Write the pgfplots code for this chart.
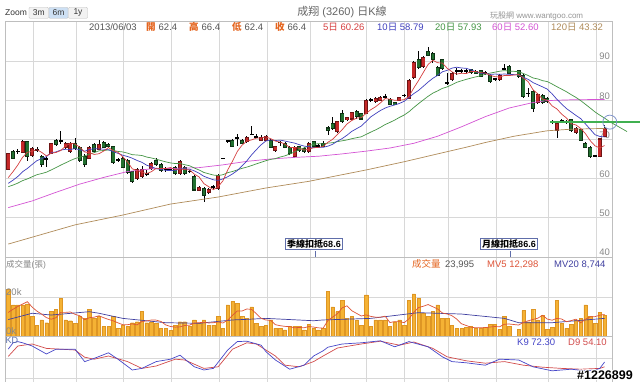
\documentclass[border=0pt]{standalone}
\usepackage{fontspec}
\setmainfont{Liberation Sans}
\newfontfamily\cjk{Noto Sans CJK TC}
\usepackage{pgfplots}
\usepackage{pgfplotstable}
\pgfplotsset{compat=1.18}
\definecolor{ma5c}{RGB}{214,64,64}
\definecolor{ma10c}{RGB}{64,64,190}
\definecolor{ma20c}{RGB}{70,150,70}
\definecolor{ma60c}{RGB}{212,84,212}
\definecolor{ma120c}{RGB}{176,140,90}
\definecolor{upc}{RGB}{196,40,40}
\definecolor{upe}{RGB}{110,20,20}
\definecolor{dnc}{RGB}{34,112,48}
\definecolor{dne}{RGB}{15,50,20}
\definecolor{volc}{RGB}{245,178,52}
\definecolor{vole}{RGB}{222,150,36}
\definecolor{gridc}{RGB}{216,216,216}
\definecolor{framec}{RGB}{190,190,190}
\definecolor{labc}{RGB}{136,136,136}
\definecolor{txtc}{RGB}{85,85,85}
\definecolor{orc}{RGB}{228,100,30}
\definecolor{kc}{RGB}{70,70,200}
\definecolor{dc}{RGB}{210,76,76}
\definecolor{mv5c}{RGB}{222,84,56}
\definecolor{mv20c}{RGB}{64,64,160}
\definecolor{boxc}{RGB}{96,110,170}
\definecolor{hlg}{RGB}{64,176,80}

\pgfplotsset{panel/.style={
  scale only axis, width=607pt, xmin=-0.69, xmax=126.56,
  axis line style={draw=framec, line width=0.7pt},
  xmajorgrids, ymajorgrids,
  grid style={draw=gridc, line width=0.6pt},
  xtick={5.18,14.19,24.05,34.11,44.17,54.23,63.25,74.99,82.96,92.18,102.25,113.14,123.20},
  xticklabels={,,,,,,,,,,,,,},
  major tick length=0pt,
  ticklabel style={font=\fontsize{9.5}{11}\selectfont, text=labc},
  /pgf/number format/assume math mode=true,
}}

% candles: i open high low close
\pgfplotstableread{
i o h l c
0 62.4 66.4 62.4 66.4
3 66.7 69.8 66.4 69.4
5 66.0 68.0 65.6 67.7
9 66.4 69.2 66.2 69.0
12 67.9 69.3 67.6 69.0
13 66.9 69.3 66.5 69.0
17 65.2 68.3 64.9 67.9
19 67.5 69.8 67.2 68.6
27 60.1 62.6 59.6 62.2
28 60.5 63.3 60.1 62.3
30 62.6 64.3 62.2 63.9
36 61.3 64.7 60.9 64.3
40 57.1 58.1 56.9 57.7
42 56.4 57.6 56.1 57.3
44 57.5 61.2 57.2 60.9
50 69.4 70.8 69.1 70.4
53 69.7 71.0 69.5 70.5
54 69.8 71.2 69.5 70.6
56 67.1 68.4 66.8 68.1
60 65.6 68.2 65.2 67.9
63 66.9 69.3 66.6 69.0
69 72.0 74.8 71.7 74.5
71 75.0 75.8 74.8 75.5
72 75.2 77.1 75.0 76.8
75 76.7 80.2 76.4 79.9
77 79.6 80.8 79.3 80.5
78 80.0 81.0 79.8 80.7
82 80.0 80.9 79.8 80.7
84 80.5 85.3 80.2 85.0
85 85.8 89.9 85.5 89.6
87 88.6 91.2 88.3 91.0
93 85.2 87.2 85.0 86.9
103 85.2 86.7 85.0 86.4
111 79.4 81.8 79.1 81.5
115 72.4 74.8 70.3 74.1
119 71.7 73.2 71.4 72.8
124 65.6 70.4 65.4 70.1
125 70.7 73.7 70.5 72.8
}\upt
\pgfplotstableread{
i o h l c
1 66.8 67.2 64.9 65.1
4 69.4 69.6 64.6 65.6
7 65.6 66.0 63.0 63.5
10 69.7 70.0 68.3 68.6
14 69.0 70.3 67.4 67.7
15 67.9 68.3 64.2 64.6
16 65.6 66.2 63.0 63.7
18 68.6 69.0 66.5 66.9
20 69.2 69.5 67.7 68.0
21 68.8 69.2 67.8 68.1
22 68.1 68.3 63.7 64.1
24 65.2 65.6 62.6 62.9
25 64.7 65.0 61.2 61.5
26 61.8 62.0 58.8 59.2
31 64.7 65.2 63.2 63.5
32 63.5 63.9 61.7 62.0
35 62.9 63.2 61.0 61.3
37 62.9 63.3 60.9 61.2
39 60.5 60.8 56.8 57.1
41 57.5 57.8 54.1 55.8
47 69.6 70.0 68.0 68.3
49 69.8 70.1 68.7 69.0
55 69.8 70.1 67.7 68.0
58 69.0 69.4 67.7 68.0
59 68.0 68.3 66.1 66.4
61 68.1 68.4 66.8 67.1
62 67.7 68.0 66.6 67.0
64 69.4 69.6 68.0 68.3
66 69.0 69.7 68.0 68.3
67 72.9 73.4 71.2 72.3
68 74.1 75.8 72.5 72.8
70 76.5 77.5 74.2 74.5
73 77.1 77.5 75.2 75.8
74 76.5 76.8 74.9 75.2
80 80.2 80.5 78.8 79.0
81 79.4 79.6 78.7 78.9
86 90.3 92.6 88.0 88.4
88 92.4 93.5 91.2 91.5
89 92.0 92.3 89.5 90.4
90 88.4 88.7 86.1 86.4
91 90.4 90.6 87.8 88.1
97 87.7 88.0 86.8 87.1
98 87.4 87.8 86.6 86.9
99 87.5 87.8 85.8 86.0
101 86.4 86.7 84.4 84.7
105 88.7 89.0 86.7 86.9
107 87.5 87.8 85.7 86.0
108 86.4 86.6 80.6 80.9
110 82.2 82.5 77.0 77.9
112 81.3 81.6 79.0 79.3
113 80.5 80.8 79.3 79.6
118 75.0 75.3 72.0 72.2
120 72.4 72.7 69.5 69.7
121 69.0 69.3 67.8 68.0
122 68.0 68.3 65.3 65.6
}\dnt
\pgfplotstableread{
i o h l c
2 66.9 67.6 66.3 67.0
6 67.3 68.1 66.8 67.2
8 64.9 65.6 62.9 65.0
11 69.6 72.1 68.7 69.7
23 64.8 65.2 64.3 64.7
29 61.3 62.2 60.6 61.2
33 62.4 63.0 61.8 62.3
34 62.3 62.8 61.9 62.4
38 61.9 62.3 61.4 61.8
43 57.9 58.4 57.1 58.0
45 65.2 65.2 65.2 65.2
46 69.7 69.7 69.1 69.7
48 70.3 71.3 68.3 70.4
51 71.3 73.5 71.0 71.2
52 70.7 71.3 70.3 70.6
57 69.2 69.7 68.3 69.3
65 68.3 68.7 68.0 68.4
76 80.1 80.5 79.5 80.2
79 80.7 81.6 80.2 80.8
83 81.2 81.6 80.8 81.3
92 84.5 86.9 83.9 84.4
94 87.5 88.1 86.4 87.4
95 87.5 87.9 86.9 87.6
96 87.5 88.0 86.6 87.6
100 86.9 87.4 86.5 87.0
102 85.3 85.7 84.8 85.4
104 87.9 89.2 87.6 88.0
109 81.8 83.0 80.9 81.7
114 74.5 75.0 74.0 74.4
116 74.7 75.3 74.3 74.8
117 74.6 74.9 74.0 74.5
123 65.8 66.1 65.4 65.7
}\djt
% moving averages 5 / 10 / 20
\pgfplotstableread{
i ma5 ma10 ma20
0 60.26 58.79 57.93
1 61.78 59.60 58.35
2 63.48 60.55 58.85
3 65.46 61.76 59.48
4 66.70 62.58 59.92
5 66.96 63.61 60.46
6 67.38 64.58 60.99
7 66.68 65.08 61.29
8 65.80 65.63 61.64
9 66.48 66.59 62.21
10 66.66 66.81 62.80
11 67.16 67.27 63.44
12 68.26 67.47 64.01
13 69.06 67.43 64.60
14 68.80 67.64 65.11
15 68.00 67.33 65.47
16 66.80 66.98 65.78
17 66.58 67.42 66.25
18 66.16 67.61 66.62
19 66.34 67.57 67.08
20 67.02 67.51 67.16
21 67.90 67.35 67.31
22 67.14 66.86 67.17
23 66.70 66.43 66.93
24 65.56 65.95 66.80
25 64.26 65.64 66.49
26 62.48 65.19 66.09
27 62.10 64.62 66.02
28 61.62 64.16 65.89
29 61.28 63.42 65.50
30 61.76 63.01 65.26
31 62.62 62.55 64.95
32 62.58 62.34 64.60
33 62.58 62.10 64.27
34 62.82 62.05 64.00
35 62.30 62.03 63.84
36 62.46 62.54 63.87
37 62.30 62.44 63.53
38 62.20 62.39 63.28
39 61.14 61.98 62.70
40 60.42 61.36 62.19
41 58.72 60.59 61.57
42 57.94 60.12 61.23
43 57.18 59.69 60.90
44 57.94 59.54 60.80
45 59.44 59.93 60.98
46 62.22 60.47 61.51
47 64.42 61.18 61.81
48 66.90 62.04 62.22
49 68.52 63.23 62.61
50 69.56 64.50 62.93
51 69.86 66.04 63.32
52 70.32 67.37 63.75
53 70.34 68.62 64.16
54 70.66 69.59 64.57
55 70.18 69.87 64.90
56 69.56 69.71 65.09
57 69.30 69.81 65.50
58 68.80 69.57 65.81
59 67.96 69.31 66.27
60 67.94 69.06 66.78
61 67.74 68.65 67.35
62 67.28 68.29 67.83
63 67.48 68.14 68.38
64 67.86 67.91 68.75
65 67.96 67.95 68.91
66 68.20 67.97 68.84
67 69.26 68.27 69.04
68 70.02 68.75 69.16
69 71.26 69.56 69.44
70 72.48 70.22 69.64
71 73.92 71.06 69.86
72 74.82 72.04 70.17
73 75.42 72.72 70.43
74 75.56 73.41 70.66
75 76.64 74.56 71.26
76 77.58 75.75 71.86
77 78.32 76.57 72.42
78 79.30 77.36 73.06
79 80.42 77.99 73.78
80 80.24 78.44 74.33
81 79.98 78.78 74.92
82 80.02 79.17 75.61
83 80.14 79.72 76.22
84 80.98 80.70 77.06
85 83.10 81.67 78.12
86 85.00 82.49 79.12
87 87.06 83.54 80.06
88 89.10 84.62 80.99
89 90.18 85.58 81.79
90 89.54 86.32 82.38
91 89.48 87.24 83.01
92 88.16 87.61 83.39
93 87.24 88.17 83.95
94 86.64 88.41 84.56
95 86.88 88.21 84.94
96 86.78 88.13 85.31
97 87.32 87.74 85.64
98 87.32 87.28 85.95
99 87.04 86.84 86.21
100 86.92 86.90 86.61
101 86.34 86.56 86.90
102 86.00 86.66 87.14
103 85.90 86.61 87.39
104 86.30 86.67 87.54
105 86.28 86.60 87.41
107 86.54 86.44 87.29
108 85.64 85.82 86.78
109 84.70 85.30 86.29
110 82.68 84.49 85.67
111 81.60 83.94 85.42
112 80.26 83.40 84.98
113 80.00 82.82 84.74
114 78.54 81.62 84.12
115 77.78 80.23 83.45
116 76.44 79.02 82.81
117 75.48 77.87 82.16
118 74.00 77.00 81.41
119 73.68 76.11 80.71
120 72.80 75.29 79.89
121 71.44 73.94 78.94
122 69.66 72.57 77.99
123 68.36 71.18 77.00
124 67.82 70.75 76.19
125 68.44 70.62 75.43
}\mat
\pgfplotstableread{
i v
0 52.6
5 54.3
10 56.5
15 58.6
20 60.3
25 61.8
30 62.5
35 62.6
40 62.8
45 63.5
50 64.4
55 65.0
60 65.4
65 65.7
70 66.3
75 67.0
80 67.8
85 69.0
90 70.8
95 73.2
100 75.8
105 78.0
110 79.4
113 79.9
118 80.1
125 80.2
}\masixty
\pgfplotstableread{
i v
0 43.3
14 48.2
24 50.7
34 53.5
44 55.3
54 57.6
63 59.3
75 62.2
83 64.3
90 66.3
96 68.0
100 69.2
106 70.8
113 72.2
118 72.6
125 72.8
}\maonetwenty
% volume (thousand shares) and MV5
\pgfplotstableread{
i v mv5
0 24.0 12.30
1 16.1 13.92
2 16.1 15.34
3 16.1 16.56
4 16.6 17.78
5 10.2 15.02
6 5.9 12.98
7 8.5 11.46
8 7.1 9.66
9 12.7 8.88
10 13.9 9.62
11 19.5 12.34
12 8.5 12.34
13 8.1 12.54
14 6.8 11.36
15 10.2 10.62
16 9.3 8.58
17 13.9 9.66
18 9.3 9.90
19 10.5 10.64
20 5.1 9.62
21 5.1 8.78
22 10.2 8.04
23 4.2 7.02
24 5.9 6.10
25 5.1 6.10
26 7.1 6.50
27 7.6 5.98
28 13.0 7.74
29 7.1 7.98
30 7.6 8.48
31 6.8 8.42
32 4.2 7.74
33 4.2 5.98
34 3.1 5.18
35 5.9 4.84
36 7.6 5.00
37 7.6 5.68
38 5.1 5.86
39 8.5 6.94
40 6.8 7.12
41 8.5 7.30
42 5.9 6.96
43 5.9 7.12
44 10.2 7.46
45 4.2 6.94
46 16.1 8.46
47 17.8 10.84
48 16.9 13.04
49 10.2 13.04
50 9.3 14.06
51 15.2 13.88
52 6.8 11.68
53 5.1 9.32
54 5.9 8.46
55 8.5 8.30
56 4.2 6.10
57 4.2 5.58
58 3.4 5.24
59 5.4 5.14
60 5.4 4.52
61 5.1 4.70
62 3.4 4.54
63 6.4 5.14
64 4.2 4.90
65 3.4 4.50
66 4.2 4.32
67 22.9 8.22
68 15.2 9.98
69 12.7 11.68
70 18.3 14.66
71 9.3 15.68
72 10.5 13.20
73 8.5 11.86
74 5.9 10.50
75 21.2 11.08
76 5.4 10.30
77 8.5 9.90
78 8.5 9.90
79 8.5 10.42
80 5.1 7.20
81 7.6 7.64
82 8.5 7.64
83 5.9 7.12
84 18.3 9.08
85 21.7 12.40
86 19.5 14.78
87 11.9 15.46
88 10.2 16.32
89 12.7 15.20
90 16.1 14.08
91 9.3 12.04
92 9.3 11.52
93 5.9 10.66
94 4.2 8.96
95 4.2 6.58
96 4.8 5.68
97 5.1 4.84
98 4.2 4.50
99 4.2 4.50
100 4.8 4.62
101 6.3 4.92
102 6.3 5.16
103 3.7 5.06
104 10.5 6.32
105 5.4 6.44
107 3.7 5.92
108 13.2 7.30
109 7.6 8.08
110 13.9 8.76
111 8.5 9.38
112 11.0 10.84
113 3.7 8.94
114 4.8 8.38
115 18.6 9.32
116 6.8 8.98
117 4.2 7.62
118 6.4 8.16
119 8.5 8.90
120 9.3 7.04
121 16.1 8.90
122 10.2 10.10
123 6.8 10.18
124 12.2 10.92
125 11.0 11.26
}\volt
\pgfplotstableread{
i v
0 8.7
5 11.9
9 11.0
17 12.7
19 11.9
24 9.3
33 7.1
40 6.8
47 8.5
50 8.8
54 9.3
64 8.1
66 8.5
76 9.3
86 12.2
95 11.5
104 9.3
107 7.1
114 7.1
125 9.3
}\mvtwenty
\pgfplotstableread{
i k
0 72.3
1 88
2 91
3 88
5 80
8 60
10 72
14 72
16 41
18 49
21 63
23 47
26 20
28 24
31 41
34 47
36 57
39 28
41 20
43 24
46 70
48 91
50 92
53 82
54 66
56 45
59 22
62 32
64 55
66 68
67 77
70 85
74 88
78 93
81 78
84 91
88 78
91 53
93 41
96 38
100 32
103 47
107 45
110 28
114 18
118 22
121 18
123 20
124 24
125 40
}\kt
\pgfplotstableread{
i d
0 54.1
2 80
5 85
8 74
11 72
14 70
16 52
18 47
21 55
25 41
28 24
31 30
35 47
37 45
41 24
44 28
47 72
50 88
52 85
56 55
58 32
61 28
64 41
66 55
69 75
74 85
78 92
82 82
85 90
89 74
92 53
96 43
100 37
104 41
108 32
112 27
116 24
120 22
124 24
125 28
}\dt

\newcommand\wicks[1]{%
 \addplot[draw=none, mark=none, forget plot, error bars/.cd, y dir=both, y explicit, error mark=none,
   error bar style={draw=black, solid, line width=0.7pt}]
   table[x=i, y expr={(\thisrow{h}+\thisrow{l})/2}, y error expr={(\thisrow{h}-\thisrow{l})/2}] {#1};}
\newcommand\bodyedge[2]{%
 \addplot[draw=none, mark=none, forget plot, error bars/.cd, y dir=both, y explicit, error mark=none,
   error bar style={draw=#2, solid, line width=4pt}]
   table[x=i, y expr={(\thisrow{o}+\thisrow{c})/2}, y error expr={abs(\thisrow{o}-\thisrow{c})/2+0.14}] {#1};}
\newcommand\bodyfill[2]{%
 \addplot[draw=none, mark=none, forget plot, error bars/.cd, y dir=both, y explicit, error mark=none,
   error bar style={draw=#2, solid, line width=2.6pt}]
   table[x=i, y expr={(\thisrow{o}+\thisrow{c})/2}, y error expr={max(abs(\thisrow{o}-\thisrow{c})/2-0.13,0)}] {#1};}
\newcommand\infotext[3]{\node[anchor=base west, inner sep=0pt, font=\fontsize{9.5}{11}\selectfont, text=#2] at (#1pt,351.7pt) {#3};}
\newcommand\voltext[3]{\node[anchor=base west, inner sep=0pt, font=\fontsize{9.5}{11}\selectfont, text=#2] at (#1pt,114.5pt) {#3};}

\begin{document}
\begin{tikzpicture}
\useasboundingbox (0pt,0pt) rectangle (640pt,382pt);
\fill[white] (0pt,0pt) rectangle (640pt,382pt);

% ---------- price panel ----------
\begin{axis}[panel, at={(5pt,125pt)}, anchor=south west, height=236pt,
  ymin=40, ymax=100.2, ytick={40,50,60,70,80,90},
  yticklabel pos=right,
  yticklabel style={anchor=south east, xshift=-1pt, inner sep=0.8pt},
  clip=false]
 \wicks{\upt}\wicks{\dnt}\wicks{\djt}
 \bodyedge{\upt}{upe}\bodyedge{\dnt}{dne}\bodyedge{\djt}{black}
 \bodyfill{\upt}{upc}\bodyfill{\dnt}{dnc}
 \addplot[ma120c, line width=0.7pt, mark=none] table[x=i,y=v] {\maonetwenty};
 \addplot[ma60c, line width=0.7pt, mark=none] table[x=i,y=v] {\masixty};
 \addplot[ma20c, line width=0.7pt, mark=none] table[x=i,y=ma20] {\mat};
 \addplot[ma20c, line width=0.7pt, mark=none] coordinates {(125,75.43) (126.1,74.5) (129.7,72.0)};
 \addplot[ma10c, line width=0.7pt, mark=none] table[x=i,y=ma10] {\mat};
 \addplot[ma5c, line width=0.7pt, mark=none] table[x=i,y=ma5] {\mat};
 \addplot[hlg, line width=2.4pt, mark=none] coordinates {(113.6,74.5) (132.4,74.5)};
 \draw[color={rgb,255:red,130;green,150;blue,205}, line width=0.8pt] (axis cs:126.1,74.4) circle[radius=7pt];
\end{axis}

% ---------- volume panel ----------
\begin{axis}[panel, at={(5pt,45.3pt)}, anchor=south west, height=79.7pt,
  ymin=0, ymax=40.46, ytick={0,20}, yticklabels={,}]
 \addplot[ybar, bar width=3.4pt, fill=volc, draw=vole, line width=0.4pt] table[x=i,y=v] {\volt};
 \addplot[mv20c, line width=0.7pt, mark=none] table[x=i,y=v] {\mvtwenty};
 \addplot[mv5c, line width=0.7pt, mark=none] table[x=i,y=mv5] {\volt};
\end{axis}

% ---------- KD panel ----------
\begin{axis}[panel, at={(5pt,-1pt)}, anchor=south west, height=46.3pt,
  ymin=-12.5, ymax=103.25, ytick={0,50}, yticklabels={,}]
 \addplot[dc, line width=0.7pt, mark=none] table[x=i,y=d] {\dt};
 \addplot[kc, line width=0.7pt, mark=none] table[x=i,y=k] {\kt};
\end{axis}

% ---------- volume axis labels ----------
\node[anchor=base west, inner sep=0pt, font=\fontsize{9.5}{11}\selectfont, text=labc] at (6pt,86pt) {20k};
\node[anchor=base west, inner sep=0pt, font=\fontsize{9.5}{11}\selectfont, text=labc] at (6pt,47pt) {0k};

% ---------- top bar ----------
\node[anchor=west, inner sep=0pt, font=\fontsize{8.5}{10}\selectfont, text={rgb,255:red,51;green,51;blue,51}] at (5pt,369.5pt) {Zoom};
\draw[framec, fill={rgb,255:red,242;green,242;blue,242}, rounded corners=1pt] (29pt,363.7pt) rectangle (48.5pt,374.7pt);
\draw[framec, fill={rgb,255:red,205;green,224;blue,244}, rounded corners=1pt] (49pt,363.7pt) rectangle (68pt,374.7pt);
\draw[framec, fill={rgb,255:red,242;green,242;blue,242}, rounded corners=1pt] (68.5pt,363.7pt) rectangle (87.5pt,374.7pt);
\node[font=\fontsize{8.5}{10}\selectfont, text={rgb,255:red,51;green,51;blue,51}] at (38.8pt,369.2pt) {3m};
\node[font=\fontsize{8.5}{10}\selectfont, text={rgb,255:red,51;green,51;blue,51}] at (58.5pt,369.2pt) {6m};
\node[font=\fontsize{8.5}{10}\selectfont, text={rgb,255:red,51;green,51;blue,51}] at (78pt,369.2pt) {1y};
\node[font=\fontsize{11}{13}\selectfont, text={rgb,255:red,102;green,102;blue,102}] at (342pt,370pt) {{\cjk 成翔} (3260) {\cjk 日}K{\cjk 線}};
\node[anchor=west, inner sep=0pt, font=\fontsize{8}{9}\selectfont, text={rgb,255:red,150;green,150;blue,150}] at (490pt,366.3pt) {{\cjk 玩股網} www.wantgoo.com};

% ---------- info row ----------
\infotext{89}{txtc}{2013/06/03}
\infotext{146}{orc}{\cjk\bfseries 開}
\infotext{158.5}{txtc}{62.4}
\infotext{189}{orc}{\cjk\bfseries 高}
\infotext{201.5}{txtc}{66.4}
\infotext{232}{orc}{\cjk\bfseries 低}
\infotext{244.5}{txtc}{62.4}
\infotext{275}{orc}{\cjk\bfseries 收}
\infotext{287.5}{txtc}{66.4}
\infotext{323}{ma5c}{5{\cjk 日} 60.26}
\infotext{377}{ma10c}{10{\cjk 日} 58.79}
\infotext{435}{ma20c}{20{\cjk 日} 57.93}
\infotext{492}{ma60c}{60{\cjk 日} 52.60}
\infotext{551}{ma120c}{120{\cjk 日} 43.32}

% ---------- deduction labels ----------
\draw[boxc, line width=0.8pt] (315pt,131pt) -- (315pt,125pt);
\node[draw=boxc, fill=white, line width=0.8pt, inner xsep=1.5pt, inner ysep=1.3pt, font=\fontsize{9}{10}\selectfont\bfseries] at (314pt,138pt) {{\cjk 季線扣抵}68.6};
\draw[boxc, line width=0.8pt] (510pt,131pt) -- (510pt,125pt);
\node[draw=boxc, fill=white, line width=0.8pt, inner xsep=1.5pt, inner ysep=1.3pt, font=\fontsize{9}{10}\selectfont\bfseries] at (509pt,138pt) {{\cjk 月線扣抵}86.6};

% ---------- volume row ----------
\node[anchor=base west, inner sep=0pt, font=\fontsize{8.5}{10}\selectfont, text=labc] at (6pt,114.5pt) {{\cjk 成交量}({\cjk 張})};
\voltext{412}{orc}{\cjk 成交量}
\voltext{445}{txtc}{23,995}
\voltext{487}{mv5c}{MV5 12,298}
\voltext{554}{mv20c}{MV20 8,744}

% ---------- KD row ----------
\node[anchor=base west, inner sep=0pt, font=\fontsize{9}{10}\selectfont, text={rgb,255:red,90;green,110;blue,170}] at (5.5pt,38pt) {KD};
\node[anchor=base west, inner sep=0pt, font=\fontsize{9.5}{11}\selectfont, text=kc] at (517pt,36.5pt) {K9 72.30};
\node[anchor=base west, inner sep=0pt, font=\fontsize{9.5}{11}\selectfont, text=dc] at (568pt,36.5pt) {D9 54.10};

% ---------- watermark ----------
\foreach \dx/\dy in {-0.8/0,0.8/0,0/-0.8,0/0.8,-0.6/-0.6,0.6/0.6,-0.6/0.6,0.6/-0.6}{
  \node[text=white, font=\fontsize{12.5}{14}\selectfont\bfseries] at (605pt+\dx pt,7pt+\dy pt) {\#1226899};}
\node[text=black, font=\fontsize{12.5}{14}\selectfont\bfseries] at (605pt,7pt) {\#1226899};
\end{tikzpicture}
\end{document}
